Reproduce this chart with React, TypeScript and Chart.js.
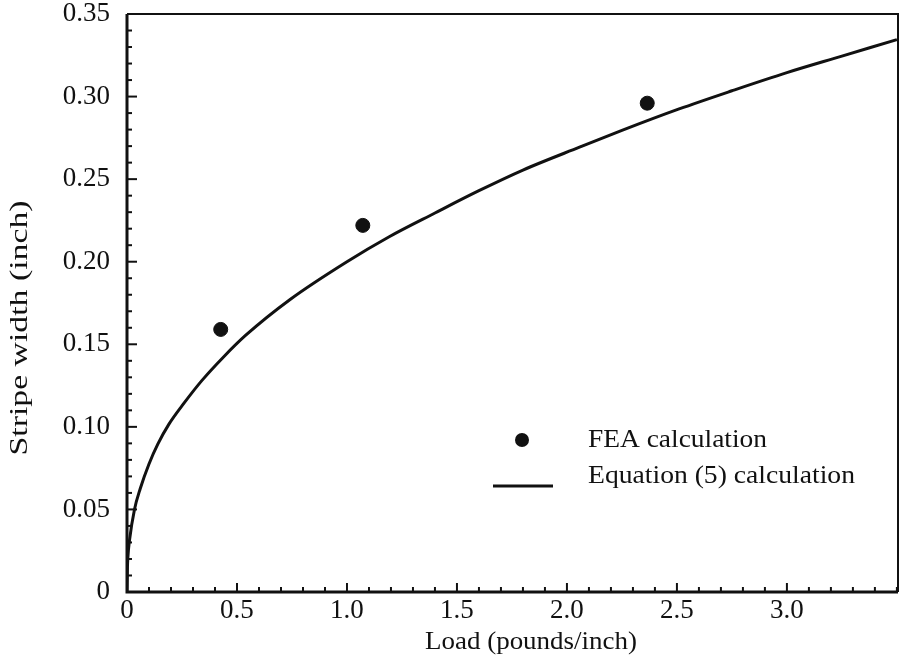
import React, { useEffect, useRef } from "react";
import { Chart, registerables } from "chart.js";

Chart.register(...registerables);

const feaLoad = [0.426, 1.072, 2.365];
const feaWidth = [0.159, 0.222, 0.296];

const eqLoad = [0, 0.002, 0.004, 0.011, 0.034, 0.06, 0.1, 0.14, 0.19, 0.26, 0.34, 0.44, 0.54, 0.74, 1.0, 1.19, 1.4, 1.6, 1.8, 2.06, 2.25, 2.51, 2.75, 3.0, 3.25, 3.5];
const eqWidth = [0, 0.015, 0.021, 0.031, 0.05, 0.0625, 0.0775, 0.0895, 0.1015, 0.1145, 0.128, 0.1425, 0.1555, 0.177, 0.2, 0.215, 0.2295, 0.243, 0.2555, 0.2695, 0.2795, 0.2925, 0.3035, 0.3145, 0.3245, 0.3345];

const xTickLabels = ["0", "0.5", "1.0", "1.5", "2.0", "2.5", "3.0"];
const yTickLabels = ["0", "0.05", "0.10", "0.15", "0.20", "0.25", "0.30", "0.35"];

const xTitle = "Load (pounds/inch)";
const yTitle = "Stripe width (inch)";
const seriesNames = ["FEA calculation", "Equation (5) calculation"];

const FONT = "'Liberation Serif', 'DejaVu Serif', serif";
const INK = "#111";

function labelFor(v: number, step: number, labels: string[]) {
  const k = v / step;
  const r = Math.round(k);
  if (Math.abs(k - r) < 1e-6 && r >= 0 && r < labels.length) return labels[r];
  return "";
}

function stretchText(ctx: any, text: string, x: number, y: number, width: number, align: string) {
  const w = ctx.measureText(text).width;
  const s = width / w;
  ctx.save();
  ctx.translate(x, y);
  ctx.scale(s, 1);
  ctx.textAlign = align;
  ctx.fillText(text, 0, 0);
  ctx.restore();
}

const decor = {
  id: "decor",
  afterDraw(chart: any) {
    const { ctx, chartArea: a, scales } = chart;
    const xs = scales.x;
    const ys = scales.y;
    ctx.save();
    ctx.strokeStyle = INK;
    ctx.fillStyle = INK;
    ctx.lineCap = "butt";
    // inward ticks
    ctx.lineWidth = 2;
    xs.ticks.forEach((t: any) => {
      const px = xs.getPixelForValue(t.value);
      if (px <= a.left + 1 || px >= a.right - 1) return;
      const major = labelFor(t.value, 0.5, xTickLabels) !== "";
      ctx.beginPath();
      ctx.moveTo(px, a.bottom);
      ctx.lineTo(px, a.bottom - (major ? 9 : 5));
      ctx.stroke();
    });
    ys.ticks.forEach((t: any) => {
      const py = ys.getPixelForValue(t.value);
      if (py >= a.bottom - 1 || py <= a.top + 1) return;
      const major = labelFor(t.value, 0.05, yTickLabels) !== "";
      ctx.beginPath();
      ctx.moveTo(a.left, py);
      ctx.lineTo(a.left + (major ? 10 : 5), py);
      ctx.stroke();
    });
    // frame
    ctx.lineWidth = 2;
    ctx.beginPath();
    ctx.moveTo(a.left, a.top);
    ctx.lineTo(a.right, a.top);
    ctx.lineTo(a.right, a.bottom);
    ctx.stroke();
    ctx.lineWidth = 3;
    ctx.beginPath();
    ctx.moveTo(a.left, a.top);
    ctx.lineTo(a.left, a.bottom);
    ctx.lineTo(a.right, a.bottom);
    ctx.stroke();
    // axis titles
    ctx.font = `25px ${FONT}`;
    ctx.textBaseline = "alphabetic";
    stretchText(ctx, xTitle, 531, a.bottom + 57, 212, "center");
    ctx.save();
    ctx.translate(20, a.top + 314);
    ctx.rotate(-Math.PI / 2);
    ctx.textBaseline = "middle";
    stretchText(ctx, yTitle, 0, 0, 255, "center");
    ctx.restore();
    // legend
    ctx.textBaseline = "alphabetic";
    ctx.font = `25px ${FONT}`;
    const lx = 588;
    ctx.beginPath();
    ctx.arc(522, a.top + 426, 7, 0, Math.PI * 2);
    ctx.fill();
    stretchText(ctx, chart.data.datasets[0].label, lx, a.top + 433, 179, "left");
    ctx.lineWidth = 3;
    ctx.beginPath();
    ctx.moveTo(493, a.top + 472);
    ctx.lineTo(553, a.top + 472);
    ctx.stroke();
    stretchText(ctx, chart.data.datasets[1].label, lx, a.top + 469, 267, "left");
    ctx.restore();
  },
};

export default function App() {
  const ref = useRef<HTMLCanvasElement | null>(null);
  useEffect(() => {
    if (!ref.current) return;
    const chart = new Chart(ref.current, {
      type: "scatter",
      data: {
        datasets: [
          {
            label: seriesNames[0],
            data: feaLoad.map((x, i) => ({ x, y: feaWidth[i] })),
            backgroundColor: INK,
            borderColor: INK,
            pointRadius: 7,
            showLine: false,
          },
          {
            label: seriesNames[1],
            data: eqLoad.map((x, i) => ({ x, y: eqWidth[i] })),
            borderColor: INK,
            backgroundColor: INK,
            borderWidth: 3,
            pointRadius: 0,
            showLine: true,
            cubicInterpolationMode: "monotone",
          } as any,
        ],
      },
      options: {
        animation: false,
        responsive: false,
        maintainAspectRatio: false,
        layout: { autoPadding: false, padding: { left: 0, right: 4, top: 14, bottom: 0 } },
        plugins: { legend: { display: false }, tooltip: { enabled: false } },
        scales: {
          x: {
            type: "linear",
            min: 0,
            max: 3.505,
            grid: { display: false, drawTicks: false },
            border: { display: false },
            title: { display: false },
            afterFit: (s: any) => {
              s.height = 69;
              s.paddingLeft = 0;
              s.paddingRight = 0;
            },
            afterBuildTicks: (s: any) => {
              const t: any[] = [];
              for (let i = 0; i <= 35; i++) t.push({ value: i / 10 });
              s.ticks = t;
            },
            ticks: {
              autoSkip: false,
              maxRotation: 0,
              padding: 3,
              color: INK,
              font: { family: FONT, size: 27 },
              callback: (v: any) => labelFor(Number(v), 0.5, xTickLabels),
            },
          },
          y: {
            type: "linear",
            min: 0,
            max: 0.35,
            grid: { display: false, drawTicks: false },
            border: { display: false },
            afterFit: (s: any) => {
              s.width = 127;
              s.paddingTop = 0;
              s.paddingBottom = 0;
            },
            afterBuildTicks: (s: any) => {
              const t: any[] = [];
              for (let i = 0; i <= 35; i++) t.push({ value: i / 100 });
              s.ticks = t;
            },
            ticks: {
              autoSkip: false,
              padding: 17,
              color: INK,
              font: { family: FONT, size: 27 },
              callback: (v: any) => labelFor(Number(v), 0.05, yTickLabels),
            },
          },
        },
      },
      plugins: [decor],
    });
    return () => chart.destroy();
  }, []);
  return (
    <div style={{ position: "fixed", left: 0, top: 0, width: 902, height: 661, background: "#fff" }}>
      <canvas ref={ref} width={902} height={661} style={{ width: 902, height: 661 }} />
    </div>
  );
}
